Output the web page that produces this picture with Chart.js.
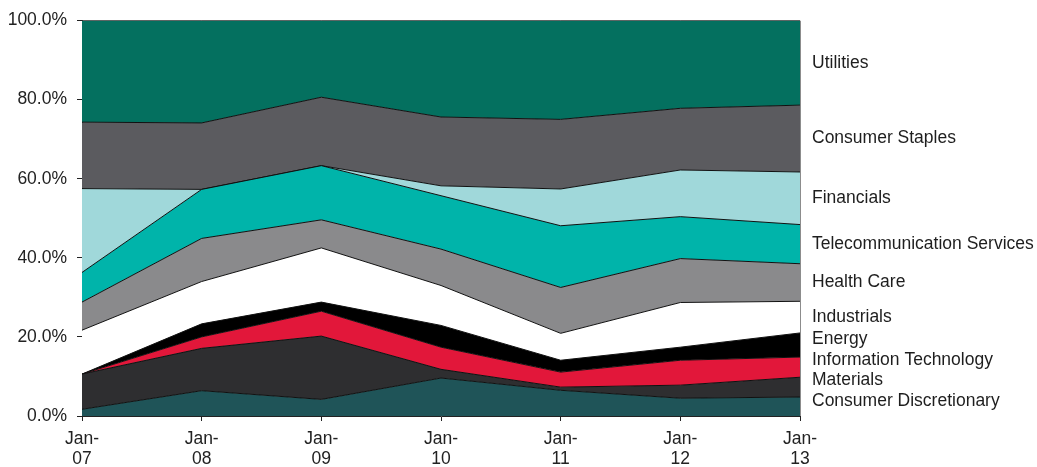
<!DOCTYPE html>
<html>
<head>
<meta charset="utf-8">
<script src="https://cdn.jsdelivr.net/npm/chart.js@4.4.1/dist/chart.umd.min.js"></script>
<style>
    html, body { margin: 0; padding: 0; background: #fff; }
    #wrap { width: 1037px; height: 467px; }
</style>
</head>
<body>
<div id="wrap"><canvas id="sector-chart" width="1037" height="467"></canvas></div>
<script>
// ---------- DATA ----------
const categories = [['Jan-', '07'], ['Jan-', '08'], ['Jan-', '09'], ['Jan-', '10'], ['Jan-', '11'], ['Jan-', '12'], ['Jan-', '13']];
const yTicks = [0, 20, 40, 60, 80, 100];

// sector weights (%), stacked bottom to top
const consumerDiscretionary = [1.7, 6.4, 4.2, 9.6, 6.5, 4.5, 4.8];
const materials             = [8.9, 10.7, 16.0, 2.2, 0.8, 3.3, 5.0];
const infoTech              = [0.0, 2.9, 6.3, 5.6, 3.8, 6.3, 5.1];
const energy                = [0.0, 3.3, 2.3, 5.5, 3.0, 3.3, 6.1];
const industrials           = [11.1, 10.7, 13.7, 10.1, 6.8, 11.3, 8.0];
const healthCare            = [7.1, 10.9, 7.1, 9.2, 11.6, 11.1, 9.5];
const telecom               = [7.5, 12.4, 13.7, 13.5, 15.6, 10.6, 9.9];
const financials            = [21.2, 0.0, 0.0, 2.5, 9.3, 11.8, 13.3];
const consumerStaples       = [16.8, 16.8, 17.3, 17.4, 17.6, 15.6, 16.9];
const utilities             = [25.7, 25.9, 19.4, 24.4, 25.0, 22.2, 21.4];

const SERIES = [
    { label: 'Consumer Discretionary', data: consumerDiscretionary, color: '#1f5458' },
    { label: 'Materials', data: materials, color: '#2e2e30' },
    { label: 'Information Technology', data: infoTech, color: '#e2173a' },
    { label: 'Energy', data: energy, color: '#000000' },
    { label: 'Industrials', data: industrials, color: '#ffffff' },
    { label: 'Health Care', data: healthCare, color: '#8a8a8c' },
    { label: 'Telecommunication Services', data: telecom, color: '#00b4aa' },
    { label: 'Financials', data: financials, color: '#a0d8da' },
    { label: 'Consumer Staples', data: consumerStaples, color: '#5b5b5f' },
    { label: 'Utilities', data: utilities, color: '#04705f' }
];

const FONT = 'Liberation Sans, Arial, sans-serif';
const FONT_SIZE = 17.5;

// ---------- PLOT FRAME ----------
const frame = {
    id: 'frame',
    beforeDatasetsDraw(chart) {
        const { ctx, chartArea: a } = chart;
        ctx.save();
        ctx.strokeStyle = '#8c8c8c';
        ctx.lineWidth = 1;
        ctx.beginPath();
        ctx.moveTo(a.left, a.top + 0.5);
        ctx.lineTo(a.right + 0.5, a.top + 0.5);
        ctx.lineTo(a.right + 0.5, a.bottom);
        ctx.stroke();
        ctx.restore();
    }
};

// ---------- SERIES NAMES AT RIGHT ----------
const sideLabels = {
    id: 'sideLabels',
    afterDraw(chart) {
        const { ctx, chartArea: a } = chart;
        const last = chart.data.labels.length - 1;
        let prevY = Infinity;
        let bottom = a.bottom;
        ctx.save();
        ctx.font = FONT_SIZE + 'px ' + FONT;
        ctx.fillStyle = '#1e1e1e';
        ctx.textBaseline = 'middle';
        chart.data.datasets.forEach((ds, i) => {
            const top = chart.getDatasetMeta(i).data[last].y;
            let y = Math.min((top + bottom) / 2, a.bottom - 15, prevY - 20.5);
            ctx.fillText(ds.label, a.right + 12, y);
            prevY = y;
            bottom = top;
        });
        ctx.restore();
    }
};

new Chart(document.getElementById('sector-chart'), {
    type: 'line',
    data: {
        labels: categories,
        datasets: SERIES.map((s, i) => ({
            label: s.label,
            data: s.data,
            backgroundColor: s.color,
            borderColor: '#111111',
            borderWidth: 1,
            pointRadius: 0,
            tension: 0,
            fill: i === 0 ? 'origin' : '-1'
        }))
    },
    options: {
        responsive: false,
        animation: false,
        layout: { padding: { top: 19, right: 237, left: 0, bottom: 0 } },
        plugins: {
            legend: { display: false },
            tooltip: { enabled: false }
        },
        scales: {
            x: {
                offset: false,
                grid: { drawOnChartArea: false, color: '#222', tickLength: 5 },
                border: { color: '#222', width: 1 },
                ticks: { color: '#222', font: { size: FONT_SIZE, family: FONT, lineHeight: 1.15 }, maxRotation: 0, padding: 8 },
                afterFit: s => { s.height = 51; }
            },
            y: {
                stacked: true,
                min: 0,
                max: 100,
                afterBuildTicks: s => { s.ticks = yTicks.map(v => ({ value: v })); },
                grid: { drawOnChartArea: false, color: '#222', tickLength: 5 },
                border: { color: '#222', width: 1 },
                ticks: {
                    color: '#222',
                    font: { size: FONT_SIZE, family: FONT },
                    padding: 10,
                    callback: v => v.toFixed(1) + '%'
                },
                afterFit: s => { s.width = 82; }
            }
        }
    },
    plugins: [frame, sideLabels]
});
</script>
</body>
</html>
